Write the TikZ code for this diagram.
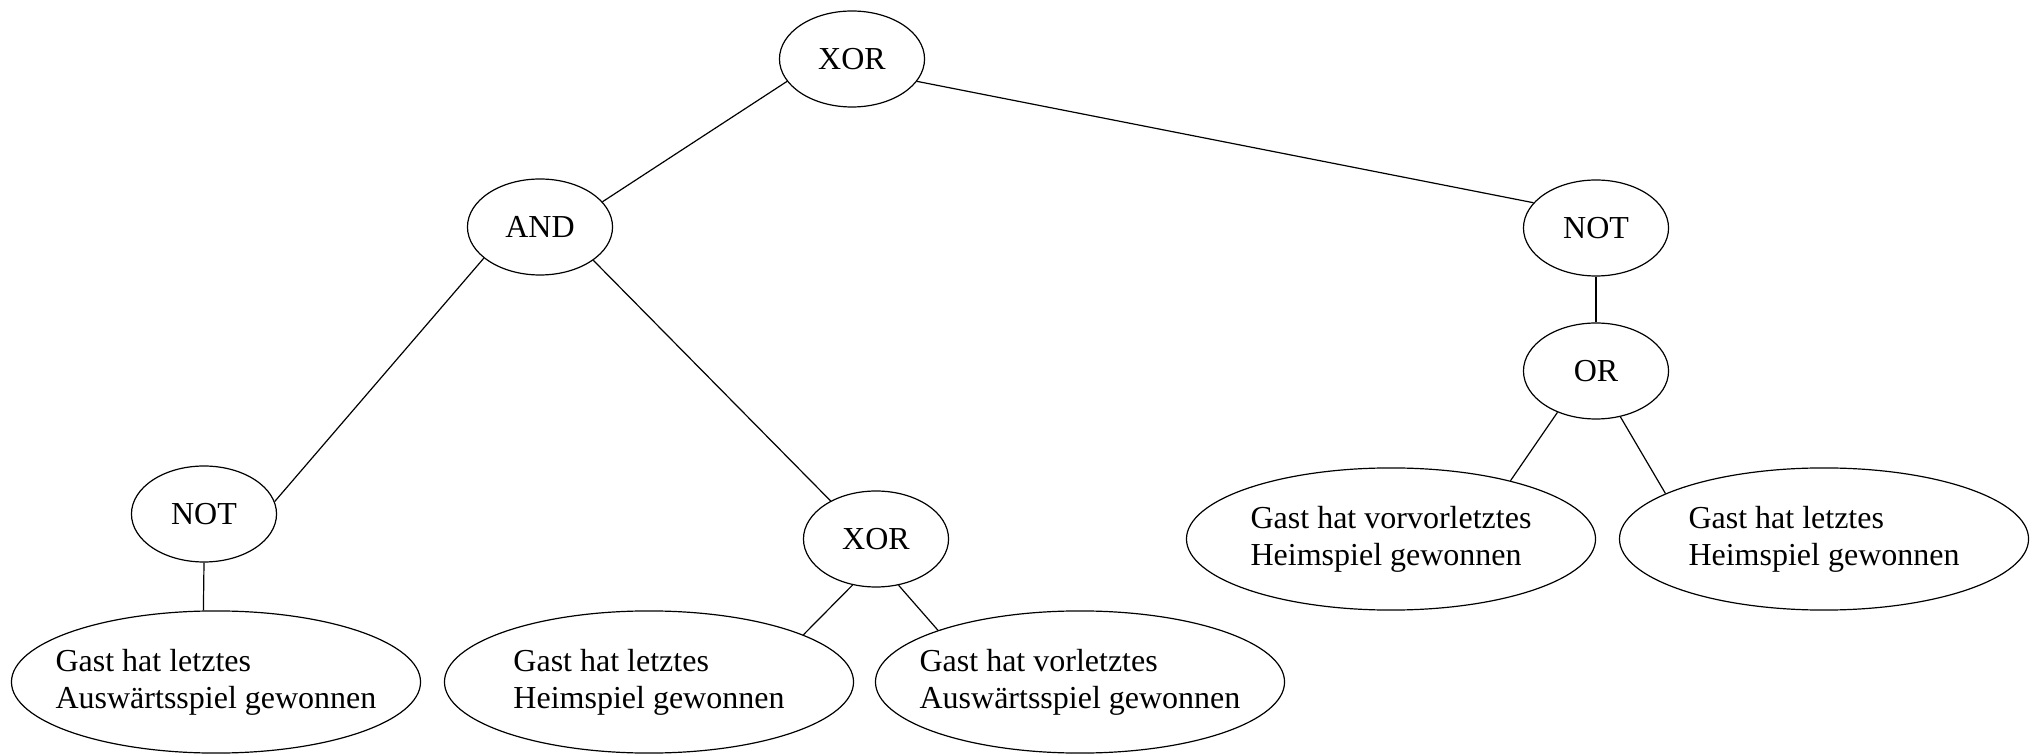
\documentclass[tikz,border=0pt]{standalone}
\usepackage{fontspec}
\setmainfont{Liberation Serif}
\usetikzlibrary{shapes.geometric}

\begin{document}
\begin{tikzpicture}[
  x=0.375pt,y=-0.375pt,
  line width=0.45pt,
  gate/.style={draw,ellipse,minimum width=54.4pt,minimum height=36pt,inner sep=1pt,font=\fontsize{12}{13.9}\selectfont},
  leaf/.style={draw,ellipse,minimum width=153.4pt,minimum height=53.3pt,inner xsep=-8pt,inner ysep=2pt,align=left,font=\fontsize{12}{13.9}\selectfont}]
\useasboundingbox (0,0) rectangle (2035,754);
\node[gate] (XOR1) at (852,59) {XOR};
\node[gate] (AND1) at (540,227) {AND};
\node[gate] (NOT2) at (1596,228) {NOT};
\node[gate] (OR1) at (1596,371) {OR};
\node[gate] (NOT1) at (204,514) {NOT};
\node[gate] (XOR2) at (876,539) {XOR};

\node[leaf] (leaf1) at (216,682) {Gast hat letztes\\Auswärtsspiel gewonnen};
\node[leaf] (leaf2) at (649,682) {Gast hat letztes\\Heimspiel gewonnen};
\node[leaf] (leaf3) at (1080,682) {Gast hat vorletztes\\Auswärtsspiel gewonnen};
\node[leaf] (leaf4) at (1391,539) {Gast hat vorvorletztes\\Heimspiel gewonnen};
\node[leaf] (leaf5) at (1824,539) {Gast hat letztes\\Heimspiel gewonnen};

\draw (XOR1.199) -- (AND1.22);
\draw (XOR1.341) -- (NOT2.158);
\draw (AND1.209) -- (NOT1.10);
\draw (AND1.328) -- (XOR2.140);
\draw (NOT1.south) -- (leaf1.100);
\draw (XOR2.243) -- (leaf2.17);
\draw (XOR2.296) -- (leaf3.160);
\draw (NOT2.south) -- (OR1.north);
\draw (OR1.227) -- (leaf4.26);
\draw (OR1.298) -- (leaf5.164);
\end{tikzpicture}
\end{document}
